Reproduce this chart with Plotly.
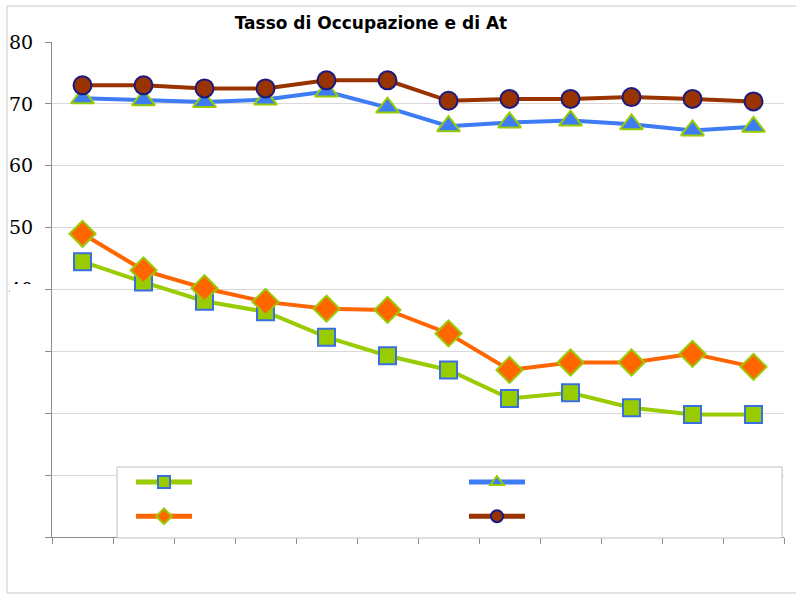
import plotly.graph_objects as go

categories = ["1995", "1996", "1997", "1998", "1999", "2000", "2001", "2002", "2003", "2004", "2005", "2006"]
serie_quadrati = [44.5, 41.2, 38.1, 36.4, 32.3, 29.3, 27.0, 22.4, 23.3, 20.9, 19.8, 19.8]
serie_rombi = [49.0, 43.1, 40.2, 38.0, 36.9, 36.7, 32.9, 27.0, 28.2, 28.2, 29.6, 27.5]
serie_triangoli = [70.9, 70.6, 70.3, 70.7, 72.0, 69.4, 66.4, 67.0, 67.3, 66.7, 65.7, 66.3]
serie_cerchi = [73.0, 73.0, 72.5, 72.5, 73.8, 73.8, 70.5, 70.8, 70.8, 71.1, 70.8, 70.4]
y_ticks = [0, 10, 20, 30, 40, 50, 60, 70, 80]
y_ticktext = ["", "", "", "", "40", "50", "60", "70", "80"]
title_text = "Tasso di Occupazione e di At"

fig = go.Figure()
fig.add_trace(go.Scatter(x=categories, y=serie_quadrati, name="", mode="lines+markers",
                         line=dict(color="#99cc00", width=4),
                         marker=dict(symbol="square", size=17, color="#99cc00",
                                     line=dict(color="#3a6fe0", width=2))))
fig.add_trace(go.Scatter(x=categories, y=serie_triangoli, name="", mode="lines+markers",
                         line=dict(color="#3d7cf5", width=4),
                         marker=dict(symbol="triangle-up", size=20, color="#3d7cf5",
                                     line=dict(color="#99cc00", width=2))))
fig.add_trace(go.Scatter(x=categories, y=serie_rombi, name="", mode="lines+markers",
                         line=dict(color="#ff6600", width=4),
                         marker=dict(symbol="diamond", size=20, color="#ff6600",
                                     line=dict(color="#99cc00", width=2))))
fig.add_trace(go.Scatter(x=categories, y=serie_cerchi, name="", mode="lines+markers",
                         line=dict(color="#993300", width=4),
                         marker=dict(symbol="circle", size=18, color="#993300",
                                     line=dict(color="#1a1a80", width=2))))

fig.update_layout(
    width=796, height=595,
    margin=dict(l=52, r=12, t=42, b=58, autoexpand=False),
    paper_bgcolor="white", plot_bgcolor="white",
    title=dict(text="<b>" + title_text + "</b>", x=0.466, xanchor="center", y=0.962, yanchor="middle",
               font=dict(family="DejaVu Sans", size=17, color="black")),
    showlegend=True,
    legend=dict(orientation="h", x=0.1079, y=0.1556, xanchor="left", yanchor="top",
                entrywidth=262, entrywidthmode="pixels", itemwidth=56,
                bgcolor="rgba(0,0,0,0)", borderwidth=0,
                font=dict(size=24), itemsizing="constant"),
    xaxis=dict(showticklabels=False, showgrid=False, showline=True, linecolor="#8c8c8c", linewidth=1,
               ticks="outside", ticklen=6, tickcolor="#8c8c8c", tickson="boundaries",
               range=[-0.5, 11.5]),
    yaxis=dict(range=[0, 80], tickvals=y_ticks, ticktext=y_ticktext, showgrid=True, gridcolor="#d9d9d9",
               showline=True, linecolor="#8c8c8c", linewidth=1, ticks="outside", ticklen=6,
               tickcolor="#8c8c8c", zeroline=False, ticklabelstandoff=8,
               tickfont=dict(family="DejaVu Serif", size=19, color="black")),
    shapes=[
        dict(type="rect", xref="paper", yref="paper", x0=-0.0574, x1=-0.0095, y0=0.004, y1=0.511,
             fillcolor="white", line=dict(width=0), layer="above"),
        dict(type="rect", xref="paper", yref="paper", x0=0.0888, x1=0.9973, y0=-0.002, y1=0.1414,
             fillcolor="white", line=dict(color="#c0c0c0", width=1), layer="above"),
        dict(type="line", xref="paper", yref="paper", x0=-0.0615, x1=1.03, y0=1.0727, y1=1.0727,
             line=dict(color="#c8c8c8", width=1)),
        dict(type="line", xref="paper", yref="paper", x0=-0.0615, x1=-0.0615, y0=-0.1131, y1=1.0727,
             line=dict(color="#c8c8c8", width=1)),
        dict(type="line", xref="paper", yref="paper", x0=-0.0615, x1=1.03, y0=-0.1131, y1=-0.1131,
             line=dict(color="#c8c8c8", width=1)),
    ],
)

fig.write_html("out.html", config={"displayModeBar": False},
               post_script="document.body.style.margin='0';document.body.style.overflow='hidden';")
